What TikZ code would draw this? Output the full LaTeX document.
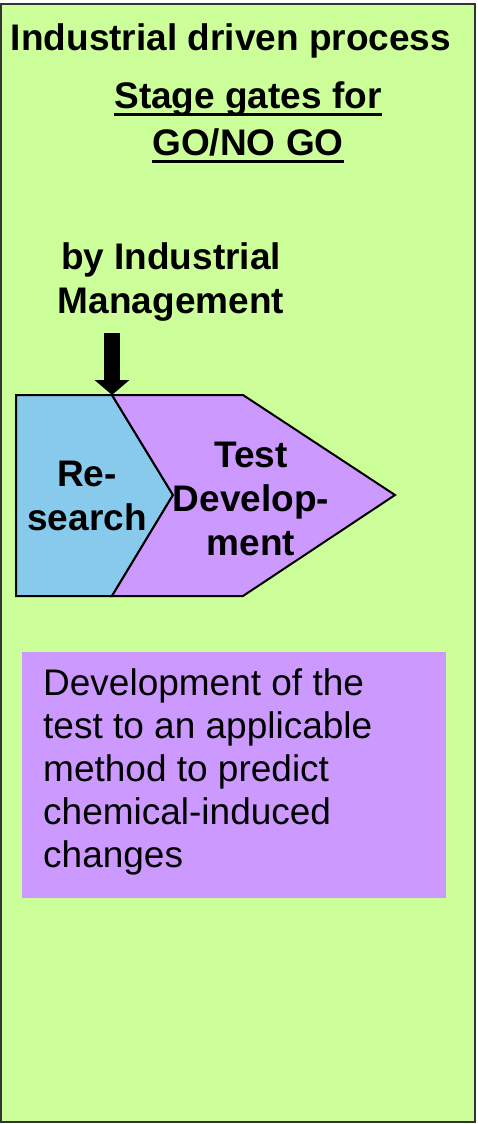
\documentclass[tikz,border=0pt]{standalone}
\usepackage{fontspec}
\setmainfont{Liberation Sans}
\usetikzlibrary{arrows.meta}
\definecolor{gatebg}{RGB}{204,255,153}
\definecolor{researchblue}{RGB}{135,202,235}
\definecolor{testviolet}{RGB}{204,153,255}
\newcommand{\gateul}[1]{\setbox0\hbox{#1}\rlap{\rule[-7.5pt]{\wd0}{2.6pt}}\box0}

\begin{document}
\begin{tikzpicture}[x=1pt,y=-1pt]
\useasboundingbox (0,0) rectangle (477,1124);
\draw[line width=2pt,draw=black!80,fill=gatebg] (1,4) rectangle (475,1122);

% stages
\draw[line width=2pt,fill=researchblue] (16,395) -- (112,395) -- (173,495) -- (112,596) -- (16,596) -- cycle;
\draw[line width=2pt,fill=testviolet] (112,395) -- (243,395) -- (395,495) -- (243,596) -- (112,596) -- (173,495) -- cycle;
\coordinate (gate) at (112,395);
\coordinate (mgmtfoot) at (112,333);

\begin{scope}[every node/.style={inner sep=0pt,align=center,
              font=\fontsize{37}{44}\selectfont\bfseries}]
    \node[anchor=base] (title) at (231,51) {Industrial driven process};
    \node[anchor=base] (gates) at (248,155) {\gateul{Stage gates for}\\[3pt]\gateul{GO/NO GO}};
    \node[anchor=base] (mgmt) at (171,313) {by Industrial\\Management};
    \node[anchor=base] (research) at (87,530) {Re-\\search};
    \node[anchor=base] (testdev) at (251,555) {Test\\Develop-\\ment};
    \end{scope}

\draw[line width=16pt,-{Triangle[length=15pt,width=34pt]}] (mgmtfoot) -- (gate);

\fill[testviolet] (22,652) rectangle (446,898);
\node[inner sep=0pt,anchor=base west,align=left,font=\fontsize{37}{43}\selectfont] (desc) at (43,867)
    {Development of the\\test to an applicable\\method to predict\\chemical-induced\\changes};

\end{tikzpicture}
\end{document}
